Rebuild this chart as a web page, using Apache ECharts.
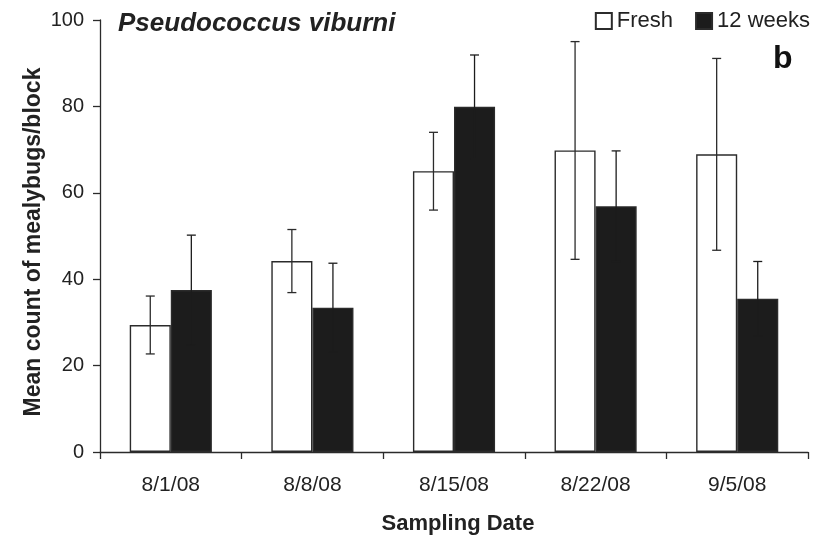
<!DOCTYPE html>
<html>
<head>
<meta charset="utf-8">
<script src="https://cdn.jsdelivr.net/npm/echarts@6/dist/echarts.min.js"></script>
<style>
  html, body { margin: 0; padding: 0; background: #fff; }
  #chart { width: 817px; height: 540px; }
</style>
</head>
<body>
<div id="chart"></div>
<script>
// Sampling dates and mean mealybug counts per block (± error)
const dates = ['8/1/08', '8/8/08', '8/15/08', '8/22/08', '9/5/08'];
const freshMean = [29.4, 44.2, 65.0, 69.8, 68.9];
const freshErr = [6.7, 7.3, 9.0, 25.2, 22.2];
const weeksMean = [37.5, 33.4, 79.9, 56.9, 35.5];
const weeksErr = [12.7, 10.3, 12.0, 12.8, 8.6];
const yTicks = [0, 20, 40, 60, 80, 100];

const FONT = 'Liberation Sans, Arial, sans-serif';
const INK = '#222';
const BAR_FRAC = 0.29; // bar width as a fraction of the category band
const WEEKS_FILL = '#1c1c1c';

function errorSeries(name, means, errs, side, stroke) {
  return {
    type: 'custom',
    name: name + ' error',
    z: 5,
    silent: true,
    data: means.map((m, i) => [i, m, errs[i]]),
    renderItem: function (params, api) {
      const i = api.value(0);
      const m = api.value(1);
      const e = api.value(2);
      const band = api.size([1, 0])[0];
      const cx = api.coord([i, m])[0] + side * band * BAR_FRAC / 2;
      const yHi = api.coord([i, m + e])[1];
      const yLo = api.coord([i, m - e])[1];
      const cap = 4.5;
      const style = { stroke: stroke, lineWidth: 1.3 };
      return {
        type: 'group',
        children: [
          { type: 'line', shape: { x1: cx, y1: yHi, x2: cx, y2: yLo }, style: style },
          { type: 'line', shape: { x1: cx - cap, y1: yHi, x2: cx + cap, y2: yHi }, style: style },
          { type: 'line', shape: { x1: cx - cap, y1: yLo, x2: cx + cap, y2: yLo }, style: style }
        ]
      };
    }
  };
}

const chart = echarts.init(document.getElementById('chart'), null, { renderer: 'canvas' });

chart.setOption({
  animation: false,
  backgroundColor: '#fff',
  textStyle: { fontFamily: FONT, color: INK },
  grid: { left: 100, right: 9, top: 20, bottom: 88, containLabel: false },
  title: {
    text: 'Pseudococcus viburni',
    left: 113,
    top: 6,
    textStyle: { fontFamily: FONT, fontSize: 26, fontWeight: 'bold', fontStyle: 'italic', color: INK }
  },
  legend: {
    data: ['Fresh', '12 weeks'],
    orient: 'horizontal',
    right: 7,
    top: 10,
    width: 300,
    padding: 0,
    icon: 'rect',
    itemWidth: 16,
    itemHeight: 16,
    itemGap: 22,
    textStyle: { fontFamily: FONT, fontSize: 22, color: INK }
  },
  graphic: [
    {
      type: 'text',
      left: 773,
      top: 43,
      style: { text: 'b', font: 'bold 32px ' + FONT, fill: '#111' }
    },
    {
      // rotated y-axis title
      type: 'text',
      x: 34,
      y: 242,
      rotation: Math.PI / 2,
      style: {
        text: 'Mean count of mealybugs/block',
        font: 'bold 23px ' + FONT,
        fill: INK,
        align: 'center',
        verticalAlign: 'middle'
      }
    }
  ],
  xAxis: {
    type: 'category',
    data: dates,
    boundaryGap: true,
    name: 'Sampling Date',
    nameLocation: 'middle',
    nameGap: 61,
    nameTextStyle: { fontFamily: FONT, fontSize: 22, fontWeight: 'bold', color: INK, padding: [0, 0, 0, 8] },
    axisLine: { lineStyle: { color: '#2b2b2b', width: 1.3 } },
    axisTick: { show: true, length: 7, inside: false, alignWithLabel: false, lineStyle: { color: '#2b2b2b', width: 1.3 } },
    axisLabel: { fontFamily: FONT, fontSize: 21, color: INK, margin: 23 },
    splitLine: { show: false }
  },
  yAxis: {
    type: 'value',
    min: yTicks[0],
    max: yTicks[yTicks.length - 1],
    interval: yTicks[1] - yTicks[0],
    axisLine: { show: true, lineStyle: { color: '#2b2b2b', width: 1.3 } },
    axisTick: { show: true, length: 7, lineStyle: { color: '#2b2b2b', width: 1.3 } },
    axisLabel: { fontFamily: FONT, fontSize: 20, color: INK, margin: 16 },
    splitLine: { show: false }
  },
  series: [
    {
      name: 'Fresh',
      type: 'bar',
      data: freshMean,
      barWidth: (BAR_FRAC * 100) + '%',
      barGap: '0%',
      itemStyle: { color: '#fff', borderColor: '#2b2b2b', borderWidth: 1.4 }
    },
    {
      name: '12 weeks',
      type: 'bar',
      data: weeksMean,
      barWidth: (BAR_FRAC * 100) + '%',
      barGap: '0%',
      itemStyle: { color: WEEKS_FILL, borderColor: '#2b2b2b', borderWidth: 1.4 }
    },
    errorSeries('Fresh', freshMean, freshErr, -1, '#2b2b2b'),
    errorSeries('12 weeks', weeksMean, weeksErr, 1, WEEKS_FILL)
  ]
});
</script>
</body>
</html>
